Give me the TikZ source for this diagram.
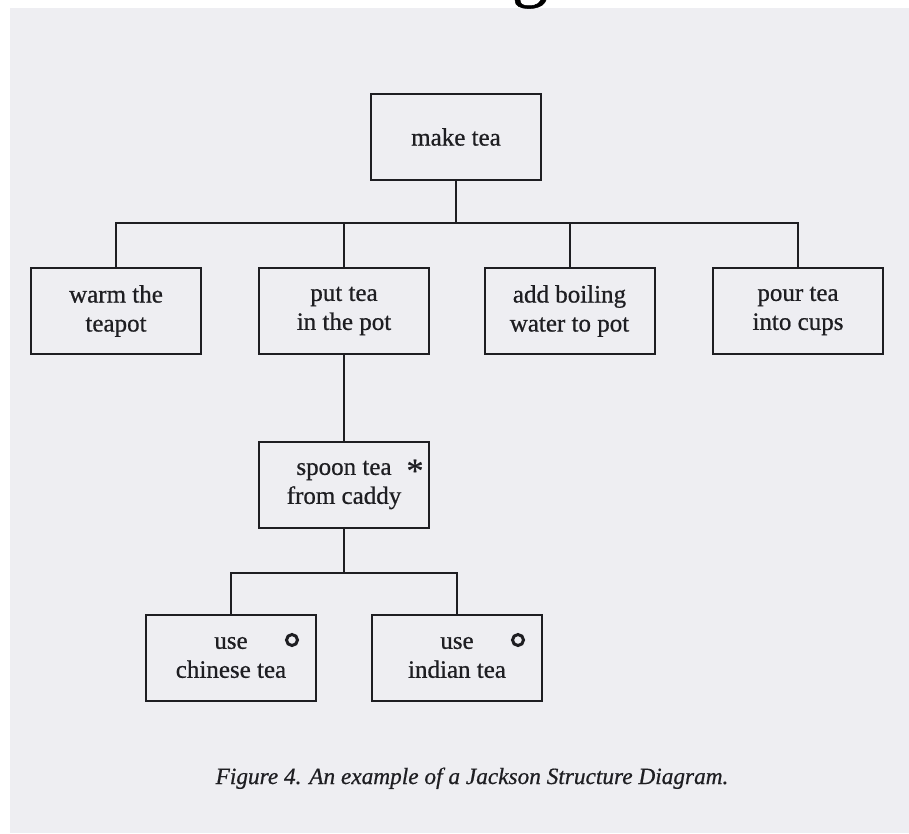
\documentclass[tikz,border=0pt]{standalone}
\usepackage{fontspec}
\setmainfont{Liberation Serif}
% slightly heavier setting for the printed labels
\newfontfamily\boxfont{Liberation Serif}[FakeBold=0.7]
\newfontfamily\capfont{Liberation Serif}[FakeBold=0.6, ItalicFeatures={FakeBold=0.6}]
\definecolor{paper}{RGB}{238,238,242}
\definecolor{ink}{RGB}{30,30,34}
\begin{document}
\begin{tikzpicture}[x=1pt,y=-1pt,
  jsbox/.style={draw=ink, line width=2pt, minimum width=170pt, minimum height=86pt,
    align=center, font=\boxfont\fontsize{25}{29}\selectfont, text=ink, inner sep=0pt},
  link/.style={draw=ink, line width=2pt},
  selmark/.style={circle, draw=ink, line width=3pt, minimum size=11pt, inner sep=0pt}]
\useasboundingbox (0,0) rectangle (909,833);
\clip (0,0) rectangle (909,833);
% page and scanned sheet
\fill[white] (0,0) rectangle (909,833);
\fill[paper] (10,8) rectangle (909,833);
% foot of the heading letter above the figure
\node[anchor=base, font=\boxfont\fontsize{72}{72}\selectfont, text=black, inner sep=0pt] (heading) at (530,-7) {g};

% structure boxes
\node[jsbox] (make) at (456,137) {make tea};
\node[jsbox] (warm) at (116,311) {warm the\\teapot};
\node[jsbox] (put) at (344,311) {put tea\\in the pot};
\node[jsbox] (boil) at (569.5,311) {add boiling\\water to pot};
\node[jsbox] (pour) at (798,311) {pour tea\\into cups};
\node[jsbox] (spoon) at (344,485) {spoon tea\\from caddy};
\node[jsbox] (chinese) at (231,657.5) {use\\chinese tea};
\node[jsbox] (indian) at (457,657.5) {use\\indian tea};

% iteration and selection marks
\node[anchor=base, font=\boxfont\fontsize{34}{34}\selectfont, text=ink, inner sep=0pt] (iter) at (415,482) {*};
\node[selmark] (selA) at (292,640) {};
\node[selmark] (selB) at (518,640) {};

% connectors
\coordinate (bar1) at (0,223);
\coordinate (bar2) at (0,573);
\draw[link] (make.south) -- (make.south |- bar1);
\draw[link] (warm.north) -- (warm.north |- bar1) -- (pour.north |- bar1) -- (pour.north);
\draw[link] (put.north) -- (put.north |- bar1);
\draw[link] (boil.north) -- (boil.north |- bar1);
\draw[link] (put.south) -- (spoon.north);
\draw[link] (spoon.south) -- (spoon.south |- bar2);
\draw[link] (chinese.north) -- (chinese.north |- bar2) -- (indian.north |- bar2) -- (indian.north);

% caption
\node[anchor=base, font=\capfont\itshape\fontsize{23.3}{23.3}\selectfont, text=ink, inner sep=0pt] (caption) at (472,784)
  {Figure 4. An example of a Jackson Structure Diagram.};
\end{tikzpicture}
\end{document}
